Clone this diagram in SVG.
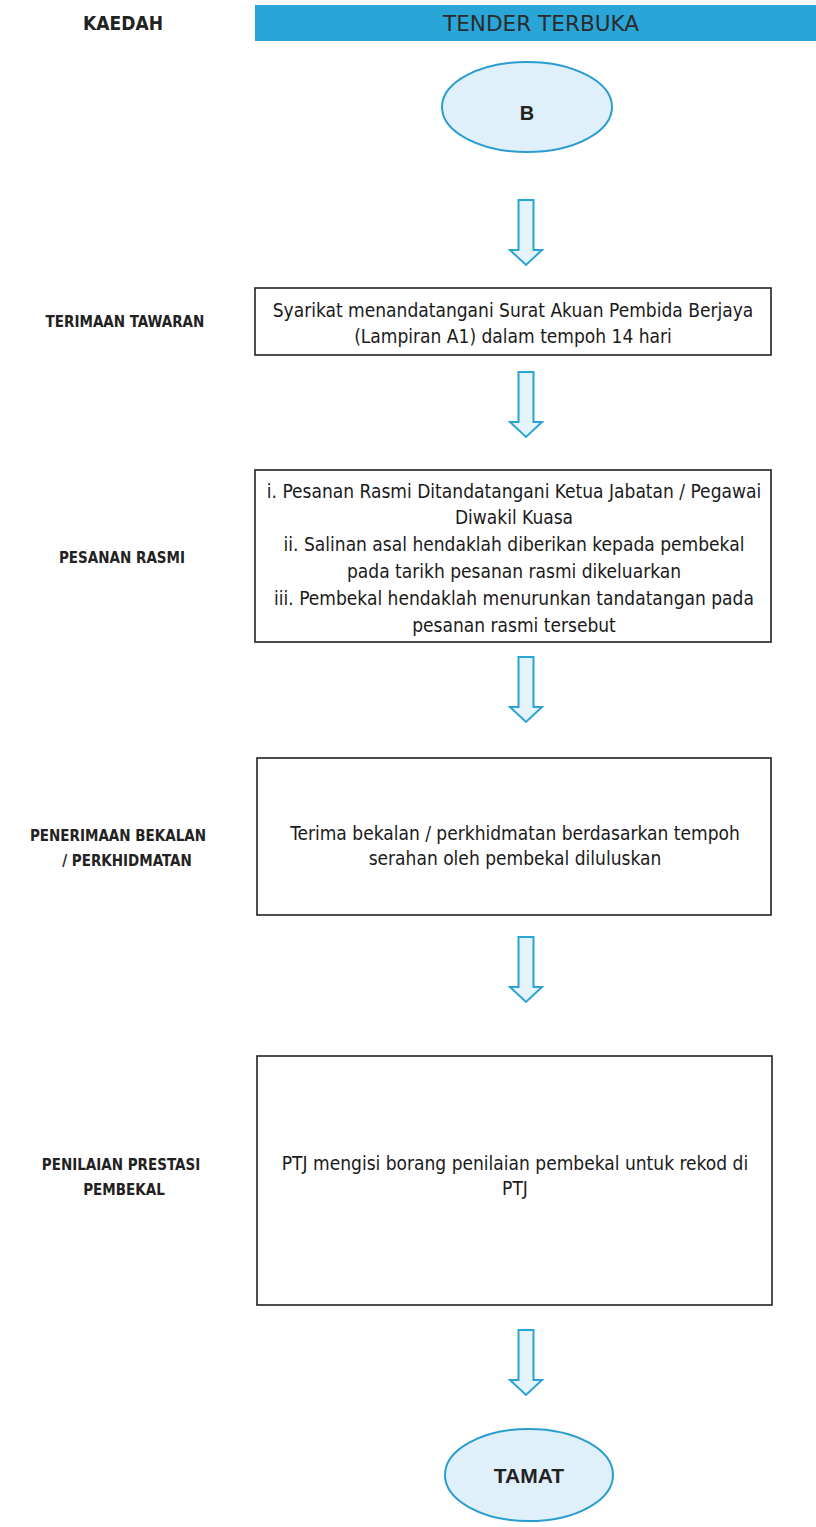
<svg xmlns="http://www.w3.org/2000/svg" width="816" height="1527" viewBox="0 0 816 1527">
<style>
.lbl{font-family:"DejaVu Sans Condensed","DejaVu Sans",sans-serif;font-weight:bold;font-size:15px;fill:#222;text-anchor:middle}
.txt{font-family:"DejaVu Sans Condensed","DejaVu Sans",sans-serif;font-size:19px;fill:#1a1a1a;text-anchor:middle}
.box{fill:#fff;stroke:#222;stroke-width:1.6}
.ell{fill:#dff0fa;stroke:#2a9dd0;stroke-width:2}
.term{font-family:"Liberation Sans",Arial,sans-serif;font-weight:bold;fill:#222;text-anchor:middle}
.arr{fill:#e4f3fc;stroke:#2aa3d6;stroke-width:2;stroke-linejoin:miter}
</style>
<defs>
<path id="arrow" d="M-7.5,0 H7.5 V50 H16 L0,65 L-16,50 H-7.5 Z"/>
</defs>
<rect width="816" height="1527" fill="#fff"/>
<g id="header">
<text class="lbl" x="123" y="30" style="font-size:19px;font-weight:bold">KAEDAH</text>
<rect x="255" y="5" width="561" height="36" fill="#2aa5d8"/>
<text x="541" y="31" textLength="196" lengthAdjust="spacingAndGlyphs" style="font-family:'DejaVu Sans Condensed','DejaVu Sans',sans-serif;font-size:21px;fill:#2b2b2b;text-anchor:middle">TENDER TERBUKA</text>
</g>
<g id="start">
<ellipse class="ell" cx="527" cy="107" rx="85" ry="45"/>
<text class="term" x="527" y="120" style="font-size:20px">B</text>
</g>
<g id="connectors">
<use href="#arrow" class="arr" x="526" y="200"/>
<use href="#arrow" class="arr" x="526" y="372"/>
<use href="#arrow" class="arr" x="526" y="657"/>
<use href="#arrow" class="arr" x="526" y="937"/>
<use href="#arrow" class="arr" x="526" y="1330"/>
</g>
<g id="terimaan">
<text class="lbl" x="125" y="327">TERIMAAN TAWARAN</text>
<rect class="box" x="255" y="288" width="516" height="67"/>
<text class="txt" x="513" y="317">Syarikat menandatangani Surat Akuan Pembida Berjaya</text>
<text class="txt" x="513" y="343">(Lampiran A1) dalam tempoh 14 hari</text>
</g>
<g id="pesanan">
<text class="lbl" x="122" y="563">PESANAN RASMI</text>
<rect class="box" x="255" y="470" width="516" height="172"/>
<text class="txt" x="514" y="498">i. Pesanan Rasmi Ditandatangani Ketua Jabatan / Pegawai</text>
<text class="txt" x="514" y="524">Diwakil Kuasa</text>
<text class="txt" x="514" y="551">ii. Salinan asal hendaklah diberikan kepada pembekal</text>
<text class="txt" x="514" y="578">pada tarikh pesanan rasmi dikeluarkan</text>
<text class="txt" x="514" y="605">iii. Pembekal hendaklah menurunkan tandatangan pada</text>
<text class="txt" x="514" y="632">pesanan rasmi tersebut</text>
</g>
<g id="penerimaan">
<text class="lbl" x="118" y="841">PENERIMAAN BEKALAN</text>
<text class="lbl" x="127" y="866">/ PERKHIDMATAN</text>
<rect class="box" x="257" y="758" width="514" height="157"/>
<text class="txt" x="515" y="840">Terima bekalan / perkhidmatan berdasarkan tempoh</text>
<text class="txt" x="515" y="865">serahan oleh pembekal diluluskan</text>
</g>
<g id="penilaian">
<text class="lbl" x="121" y="1170">PENILAIAN PRESTASI</text>
<text class="lbl" x="124" y="1195">PEMBEKAL</text>
<rect class="box" x="257" y="1056" width="515" height="249"/>
<text class="txt" x="515" y="1170">PTJ mengisi borang penilaian pembekal untuk rekod di</text>
<text class="txt" x="515" y="1195">PTJ</text>
</g>
<g id="end">
<ellipse class="ell" cx="529" cy="1475" rx="84" ry="46"/>
<text class="term" x="529" y="1483" style="font-size:21px">TAMAT</text>
</g>
</svg>
